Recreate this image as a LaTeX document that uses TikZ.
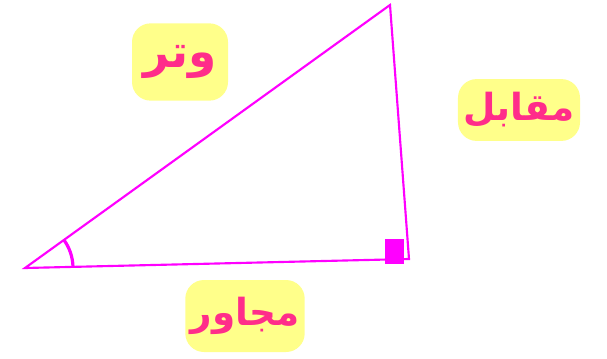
\documentclass[tikz,border=0pt]{standalone}
\usepackage{fontspec}
\newfontfamily\arabicfont[Script=Arabic]{DejaVu Sans}
\TeXXeTstate=1
\definecolor{side}{HTML}{FF00FF}
\definecolor{ink}{HTML}{FF2D8A}
\definecolor{marker}{HTML}{FFFF8A}
\tikzset{
  label/.style={fill=marker, rounded corners=14pt, text=ink, inner xsep=4pt, inner ysep=10pt,
    font=\arabicfont\bfseries\fontsize{34}{40}\selectfont},
  small/.style={font=\arabicfont\bfseries\fontsize{28}{34}\selectfont},
}
\begin{document}
\begin{tikzpicture}[x=0.75pt,y=0.75pt]
        \useasboundingbox (0,0) rectangle (607,358);
        \coordinate (A) at (25,90);
        \coordinate (B) at (409,99);
        \coordinate (C) at (390,353);
        \draw[side, line width=1.6pt, line join=miter] (A) -- (B) -- (C) -- cycle;
        \draw[side, line width=2.4pt] (A) ++(1.5:48) arc (1.5:36:48);
        \fill[side] (385,94) rectangle (404,119);
        \node[label, minimum width=72pt, minimum height=58pt] (hyp) at (180,296) {\beginR وتر\endR};
        \node[label, small, minimum height=46pt] (opp) at (519,248) {\beginR مقابل\endR};
        \node[label, small, minimum height=54pt] (adj) at (245,42) {\beginR مجاور\endR};
    \end{tikzpicture}
\end{document}
